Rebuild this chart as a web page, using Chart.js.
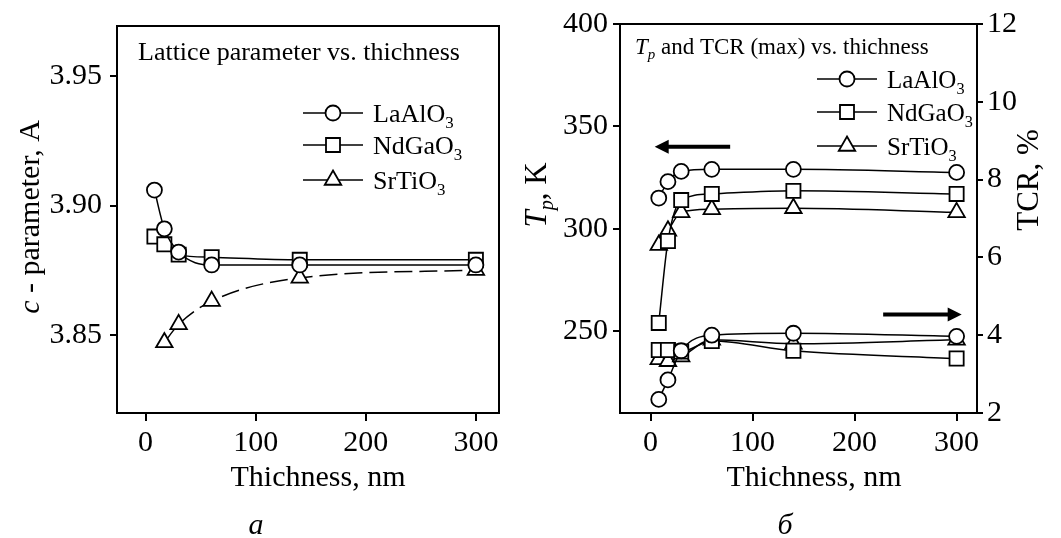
<!DOCTYPE html>
<html lang="en">
<head>
<meta charset="UTF-8">
<title>Lattice parameter, Tp and TCR vs. thichness</title>
<style>
    body {
        margin: 0;
        background: #ffffff;
        width: 1061px;
        height: 538px;
        position: relative;
        overflow: hidden;
    }
    .panel {
        position: absolute;
        top: 0;
        height: 538px;
    }
    #leftPanel { left: 0; width: 520px; }
    #rightPanel { left: 520px; width: 541px; }
</style>
</head>
<body>
<div class="panel" id="leftPanel"><canvas id="latticeChart" width="520" height="538"></canvas></div>
<div class="panel" id="rightPanel"><canvas id="tpChart" width="541" height="538"></canvas></div>

<script src="https://cdn.jsdelivr.net/npm/chart.js"></script>
<script>
    // data
    const substrates = ['LaAlO3', 'NdGaO3', 'SrTiO3'];
    const thickness = [8, 17, 30, 60, 140, 300];
    const thicknessSrTiO3 = [17, 30, 60, 140, 300];

    const latticeLaAlO3 = [3.906, 3.891, 3.882, 3.877, 3.877, 3.877];
    const latticeNdGaO3 = [3.888, 3.885, 3.881, 3.880, 3.879, 3.879];
    const latticeSrTiO3 = [3.847, 3.854, 3.863, 3.872, 3.875];

    const tpLaAlO3 = [315, 323, 328, 329, 329, 327.5];
    const tpNdGaO3 = [254, 294, 314, 317, 318.5, 317];
    const tpSrTiO3 = [292, 299, 308, 309.5, 310, 308];

    const tcrLaAlO3 = [2.35, 2.85, 3.6, 4.0, 4.05, 3.97];
    const tcrNdGaO3 = [3.62, 3.62, 3.58, 3.85, 3.6, 3.4];
    const tcrSrTiO3 = [3.38, 3.33, 3.45, 3.88, 3.78, 3.88];

    const thicknessTicks = [0, 100, 200, 300];
    const latticeTicks = [3.85, 3.90, 3.95];
    const tpTicks = [250, 300, 350, 400];
    const tcrTicks = [2, 4, 6, 8, 10, 12];

    // arrows pointing at the axis each group belongs to (data coords)
    const tpArrow = { from: 78, to: 4, y: 340 };
    const tcrArrow = { from: 228, to: 305, y: 4.53 };

    const FONT = "'Liberation Serif', 'Times New Roman', serif";
    const styles = ['circle', 'rect', 'triangle'];
    const radius = { circle: 7.5, rect: 10, triangle: 9.5 };

    function series(xs, ys, style, axis, dash) {
        return {
            data: xs.map((x, i) => ({ x: x, y: ys[i] })),
            yAxisID: axis,
            borderColor: '#000',
            borderWidth: 1.5,
            borderDash: dash || [],
            pointStyle: style,
            pointRadius: radius[style],
            pointBackgroundColor: '#fff',
            pointBorderColor: '#000',
            pointBorderWidth: 1.8,
            cubicInterpolationMode: 'monotone',
            fill: false
        };
    }

    // text with italic / subscript pieces
    function drawRich(ctx, parts, x, y, size, rotate, align) {
        ctx.save();
        ctx.translate(x, y);
        if (rotate) ctx.rotate(-Math.PI / 2);
        ctx.fillStyle = '#000';
        ctx.textBaseline = 'alphabetic';
        const fonts = parts.map(p => (p.italic ? 'italic ' : '') + (p.sub ? size * 0.65 : size) + 'px ' + FONT);
        let total = 0;
        parts.forEach((p, i) => { ctx.font = fonts[i]; total += ctx.measureText(p.t).width; });
        let cx = align === 'center' ? -total / 2 : 0;
        parts.forEach((p, i) => {
            ctx.font = fonts[i];
            ctx.fillText(p.t, cx, p.sub ? size * 0.22 : 0);
            cx += ctx.measureText(p.t).width;
        });
        ctx.restore();
    }

    function drawMarker(ctx, style, x, y) {
        ctx.save();
        ctx.fillStyle = '#fff';
        ctx.strokeStyle = '#000';
        ctx.lineWidth = 1.8;
        ctx.beginPath();
        if (style === 'circle') {
            ctx.arc(x, y, 7.5, 0, Math.PI * 2);
        } else if (style === 'rect') {
            ctx.rect(x - 7, y - 7, 14, 14);
        } else {
            const r = radius.triangle;
            ctx.moveTo(x, y - r);
            ctx.lineTo(x + r * 0.866, y + r * 0.5);
            ctx.lineTo(x - r * 0.866, y + r * 0.5);
            ctx.closePath();
        }
        ctx.fill();
        ctx.stroke();
        ctx.restore();
    }

    function drawLegend(ctx, x0, rows, size) {
        substrates.forEach((name, i) => {
            const y = rows[i];
            ctx.save();
            ctx.strokeStyle = '#000';
            ctx.lineWidth = 1.5;
            ctx.beginPath();
            ctx.moveTo(x0, y);
            ctx.lineTo(x0 + 60, y);
            ctx.stroke();
            ctx.restore();
            drawMarker(ctx, styles[i], x0 + 30, y);
            drawRich(ctx, [{ t: name.slice(0, -1) }, { t: name.slice(-1), sub: true }], x0 + 70, y + 9, size);
        });
    }

    function frame(chart) {
        const a = chart.chartArea;
        const ctx = chart.ctx;
        ctx.save();
        ctx.strokeStyle = '#000';
        ctx.lineWidth = 2;
        ctx.strokeRect(a.left, a.top, a.right - a.left, a.bottom - a.top);
        ctx.restore();
    }

    function arrow(ctx, x1, x2, y) {
        const dir = Math.sign(x2 - x1);
        ctx.save();
        ctx.strokeStyle = '#000';
        ctx.fillStyle = '#000';
        ctx.lineWidth = 4;
        ctx.beginPath();
        ctx.moveTo(x1, y);
        ctx.lineTo(x2 - dir * 12, y);
        ctx.stroke();
        ctx.beginPath();
        ctx.moveTo(x2, y);
        ctx.lineTo(x2 - dir * 14, y - 7);
        ctx.lineTo(x2 - dir * 14, y + 7);
        ctx.closePath();
        ctx.fill();
        ctx.restore();
    }

    function axisStyle(extra) {
        return Object.assign({
            type: 'linear',
            grid: { display: true, drawOnChartArea: false, tickLength: 8, color: '#000', lineWidth: 2 },
            border: { display: true, color: '#000', width: 2 },
            ticks: { color: '#000', font: { family: FONT, size: 30 }, padding: 4 },
            title: { display: false }
        }, extra);
    }

    function setTicks(values) {
        return scale => { scale.ticks = values.map(v => ({ value: v })); };
    }

    const latticeDecor = {
        id: 'latticeDecor',
        afterDatasetsDraw(chart) {
            const ctx = chart.ctx;
            frame(chart);
            drawRich(ctx, [{ t: 'Lattice parameter vs. thichness' }], 138, 60, 26);
            drawLegend(ctx, 303, [113, 145, 180], 26);
        },
        afterDraw(chart) {
            const ctx = chart.ctx;
            drawRich(ctx, [{ t: 'c', italic: true }, { t: ' - parameter, A' }], 39, 217, 30, true, 'center');
            drawRich(ctx, [{ t: 'Thichness, nm' }], 318, 486, 30, false, 'center');
            drawRich(ctx, [{ t: 'а', italic: true }], 256, 534, 30, false, 'center');
        }
    };

    const tpDecor = {
        id: 'tpDecor',
        afterDatasetsDraw(chart) {
            const ctx = chart.ctx;
            const x = chart.scales.x;
            frame(chart);
            drawRich(ctx, [{ t: 'T', italic: true }, { t: 'p', italic: true, sub: true }, { t: ' and TCR (max) vs. thichness' }], 115, 54, 23);
            drawLegend(ctx, 297, [79, 112, 146], 25);
            arrow(ctx, x.getPixelForValue(tpArrow.from), x.getPixelForValue(tpArrow.to), chart.scales.y.getPixelForValue(tpArrow.y));
            arrow(ctx, x.getPixelForValue(tcrArrow.from), x.getPixelForValue(tcrArrow.to), chart.scales.y1.getPixelForValue(tcrArrow.y));
        },
        afterDraw(chart) {
            const ctx = chart.ctx;
            drawRich(ctx, [{ t: 'T', italic: true }, { t: 'p', italic: true, sub: true }, { t: ', K' }], 26, 195, 31, true, 'center');
            drawRich(ctx, [{ t: 'TCR, %' }], 518, 180, 31, true, 'center');
            drawRich(ctx, [{ t: 'Thichness, nm' }], 294, 486, 30, false, 'center');
            drawRich(ctx, [{ t: 'б', italic: true }], 265, 534, 30, false, 'center');
        }
    };

    const commonPlugins = {
        legend: { display: false },
        tooltip: { enabled: false }
    };

    new Chart(document.getElementById('latticeChart'), {
        type: 'line',
        data: {
            datasets: [
                series(thickness, latticeLaAlO3, 'circle', 'y'),
                series(thickness, latticeNdGaO3, 'rect', 'y'),
                series(thicknessSrTiO3, latticeSrTiO3, 'triangle', 'y', [18, 7])
            ]
        },
        options: {
            responsive: false,
            animation: false,
            layout: { padding: { top: 22, right: 21, left: 0, bottom: 0 } },
            plugins: commonPlugins,
            scales: {
                x: axisStyle({ min: -26, max: 321, afterBuildTicks: setTicks(thicknessTicks), afterFit: s => { s.height = 125; } }),
                y: axisStyle({
                    min: 3.8197, max: 3.9695,
                    afterBuildTicks: setTicks(latticeTicks),
                    afterFit: s => { s.width = 117; },
                    grid: { display: true, drawOnChartArea: false, tickLength: 7, color: '#000', lineWidth: 2 },
                    ticks: { color: '#000', font: { family: FONT, size: 30 }, padding: 8, callback: v => Number(v).toFixed(2) }
                })
            }
        },
        plugins: [latticeDecor]
    });

    new Chart(document.getElementById('tpChart'), {
        type: 'line',
        data: {
            datasets: [
                series(thickness, tpLaAlO3, 'circle', 'y'),
                series(thickness, tpNdGaO3, 'rect', 'y'),
                series(thickness, tpSrTiO3, 'triangle', 'y'),
                series(thickness, tcrLaAlO3, 'circle', 'y1'),
                series(thickness, tcrNdGaO3, 'rect', 'y1'),
                series(thickness, tcrSrTiO3, 'triangle', 'y1')
            ]
        },
        options: {
            responsive: false,
            animation: false,
            layout: { padding: { top: 24, right: 0, left: 0, bottom: 0 } },
            plugins: commonPlugins,
            scales: {
                x: axisStyle({ min: -30, max: 320, afterBuildTicks: setTicks(thicknessTicks), afterFit: s => { s.height = 125; } }),
                y: axisStyle({
                    position: 'left', min: 210, max: 400,
                    afterBuildTicks: setTicks(tpTicks),
                    afterFit: s => { s.width = 100; },
                    grid: { display: true, drawOnChartArea: false, tickLength: 7, color: '#000', lineWidth: 2 },
                    ticks: { color: '#000', font: { family: FONT, size: 30 }, padding: 5 }
                }),
                y1: axisStyle({
                    position: 'right', min: 2, max: 12,
                    afterBuildTicks: setTicks(tcrTicks),
                    afterFit: s => { s.width = 84; },
                    grid: { display: true, drawOnChartArea: false, tickLength: 6, color: '#000', lineWidth: 2 },
                    ticks: { color: '#000', font: { family: FONT, size: 30 }, padding: 4 }
                })
            }
        },
        plugins: [tpDecor]
    });
</script>
</body>
</html>
